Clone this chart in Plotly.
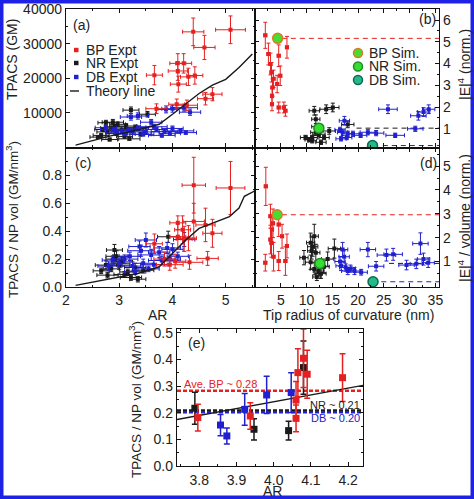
import numpy as np
import plotly.graph_objects as go

W, H = 474, 499
RED = "#e62020"
BLK = "#1a1a1a"
BLU = "#2020d0"
FONT = "Liberation Sans, Arial, sans-serif"

# ---------------- data: panel (a) TPACS vs AR ----------------
bp_a_ar = [4.39, 5.09, 4.60, 3.66, 4.10, 4.21, 4.10, 4.30, 4.42, 4.11, 4.62, 4.75, 4.08, 3.70, 4.27]
bp_a_t = [33400, 34000, 28900, 20900, 24300, 24300, 22100, 20400, 20800, 18300, 14100, 15400, 12500, 11200, 12200]
bp_a_xe = [0.20, 0.28, 0.20, 0.15, 0.15, 0.15, 0.18, 0.15, 0.15, 0.15, 0.15, 0.18, 0.15, 0.20, 0.20]
bp_a_ye = [4000, 4000, 3500, 2800, 2800, 2800, 2700, 2500, 2500, 2300, 1800, 1900, 1500, 1400, 1500]

nr_a_ar = [3.22, 3.53, 2.88, 2.75, 2.97, 3.13, 2.69, 2.85, 3.05, 2.78, 3.25, 2.66, 2.95, 3.40, 2.82, 3.19, 3.10, 2.92, 3.30, 2.60]
nr_a_t = [10800, 9600, 7300, 7150, 6700, 6200, 5200, 5600, 5000, 4500, 4800, 3500, 4000, 3800, 2300, 2500, 3200, 6000, 5800, 3000]
nr_a_xe = [0.15, 0.15, 0.2, 0.15, 0.15, 0.2, 0.15, 0.2, 0.15, 0.2, 0.2, 0.15, 0.2, 0.2, 0.15, 0.2, 0.15, 0.2, 0.2, 0.15]
nr_a_ye = [900, 800, 800, 700, 700, 700, 600, 600, 600, 500, 600, 500, 500, 500, 400, 400, 500, 700, 700, 400]

db_a_ar = [3.35, 3.22, 3.88, 4.00, 4.22, 4.33, 3.60, 2.75, 2.90, 3.05, 3.20, 3.35, 3.50, 3.70, 3.85, 4.00, 4.15, 3.45, 3.10, 3.80, 3.95, 2.95, 3.65, 4.25]
db_a_t = [9100, 8800, 11000, 11200, 11500, 10200, 7300, 5700, 5200, 4700, 5000, 5600, 4500, 5200, 4600, 5500, 4800, 3800, 3900, 3500, 4100, 4200, 6000, 4300]
db_a_xe = [0.2, 0.2, 0.2, 0.2, 0.25, 0.2, 0.2, 0.2, 0.25, 0.2, 0.25, 0.2, 0.25, 0.2, 0.25, 0.2, 0.25, 0.2, 0.2, 0.25, 0.2, 0.2, 0.25, 0.2]
db_a_ye = [900, 900, 1000, 1000, 1000, 900, 800, 700, 600, 600, 600, 700, 600, 600, 600, 700, 600, 500, 500, 500, 500, 500, 700, 500]

theory_ar = [2.18, 2.82, 3.38, 3.75, 4.00, 4.25, 4.50, 4.75, 5.00, 5.25, 5.50]
theory_t = [670, 3300, 5200, 6700, 9600, 12500, 15600, 18000, 19700, 23100, 27000]

# ---------------- data: panel (c) TPACS/vol vs AR ----------------
bp_c_ar = [4.40, 5.09, 4.40, 4.62, 4.75, 4.19, 4.10, 4.22, 4.30, 3.66, 4.66, 4.32, 3.85, 4.05, 3.95, 4.10]
bp_c_v = [0.73, 0.71, 0.47, 0.445, 0.385, 0.41, 0.36, 0.345, 0.35, 0.31, 0.205, 0.177, 0.20, 0.185, 0.16, 0.46]
bp_c_xe = [0.22, 0.27, 0.20, 0.18, 0.18, 0.15, 0.15, 0.15, 0.15, 0.15, 0.20, 0.25, 0.20, 0.20, 0.25, 0.15]
bp_c_ye = [0.20, 0.19, 0.13, 0.12, 0.10, 0.10, 0.09, 0.09, 0.09, 0.07, 0.05, 0.05, 0.05, 0.05, 0.04, 0.05]

nr_c_ar = [2.91, 2.95, 2.66, 2.78, 3.22, 3.35, 3.00, 3.16, 2.75, 3.05, 2.85, 3.10, 3.45, 2.90, 3.92, 3.30]
nr_c_v = [0.265, 0.22, 0.116, 0.085, 0.068, 0.056, 0.157, 0.108, 0.157, 0.18, 0.13, 0.09, 0.12, 0.20, 0.36, 0.14]
nr_c_xe = [0.15, 0.2, 0.15, 0.2, 0.2, 0.15, 0.2, 0.15, 0.2, 0.2, 0.15, 0.2, 0.2, 0.15, 0.2, 0.2]
nr_c_ye = [0.04, 0.04, 0.02, 0.02, 0.02, 0.02, 0.03, 0.02, 0.03, 0.03, 0.02, 0.02, 0.02, 0.03, 0.04, 0.03]

db_c_ar = [3.50, 3.38, 3.41, 2.88, 3.00, 3.10, 3.25, 3.45, 3.60, 3.75, 3.90, 4.00, 4.10, 3.80, 3.55, 3.30, 2.80, 3.65, 3.95, 4.22, 3.20]
db_c_v = [0.337, 0.29, 0.26, 0.193, 0.17, 0.20, 0.15, 0.17, 0.23, 0.25, 0.28, 0.27, 0.22, 0.19, 0.13, 0.11, 0.15, 0.16, 0.20, 0.34, 0.22]
db_c_xe = [0.2, 0.2, 0.25, 0.2, 0.2, 0.25, 0.2, 0.2, 0.25, 0.2, 0.25, 0.2, 0.2, 0.25, 0.2, 0.2, 0.2, 0.25, 0.2, 0.2, 0.2]
db_c_ye = [0.05, 0.04, 0.04, 0.03, 0.03, 0.03, 0.03, 0.03, 0.04, 0.04, 0.04, 0.04, 0.03, 0.03, 0.02, 0.02, 0.03, 0.03, 0.03, 0.05, 0.03]

theory_c_ar = [2.18, 3.35, 3.75, 4.00, 4.25, 4.50, 4.88, 5.07, 5.25, 5.35, 5.55]
theory_c_v = [0.012, 0.097, 0.145, 0.24, 0.337, 0.42, 0.48, 0.505, 0.566, 0.65, 0.69]

# ---------------- data: panel (b) |E|^4 vs tip radius ----------------
bp_b_r = [2.0, 2.6, 3.0, 3.2, 3.4, 3.3, 3.3, 4.6, 5.9, 5.6, 6.2, 4.6, 4.9, 4.3, 3.6]
bp_b_e = [5.3, 4.44, 3.98, 3.6, 2.9, 2.52, 2.13, 1.98, 1.83, 1.98, 4.75, 4.36, 3.44, 3.06, 3.3]
bp_b_xe = [0.3] * 15
bp_b_ye = [0.6, 0.5, 0.5, 0.45, 0.4, 0.35, 0.3, 0.25, 0.25, 0.25, 0.5, 0.5, 0.45, 0.4, 0.4]

nr_b_r = [11.5, 11.8, 13.8, 15.1, 9.8, 11.1, 12.4, 13.4, 14.4, 11.1, 12.8, 11.8, 18.0, 10.5, 12.0]
nr_b_e = [1.83, 1.44, 1.9, 1.98, 0.6, 0.6, 0.75, 0.6, 0.9, 0.45, 0.38, 0.84, 1.2, 0.5, 1.1]
nr_b_xe = [1.0, 0.8, 1.2, 1.2, 1.0, 1.0, 1.2, 1.0, 1.2, 0.8, 1.0, 1.0, 1.2, 0.8, 1.0]
nr_b_ye = [0.2, 0.2, 0.2, 0.2, 0.1, 0.1, 0.1, 0.1, 0.15, 0.1, 0.1, 0.15, 0.15, 0.1, 0.15]

db_b_r = [17.35, 17.0, 18.0, 16.7, 19.0, 20.5, 21.9, 23.5, 25.8, 27.2, 31.1, 31.7, 32.7, 33.7, 16.5, 17.8]
db_b_e = [1.37, 0.84, 0.77, 0.54, 0.77, 0.70, 0.84, 0.80, 1.90, 0.70, 1.00, 1.60, 1.77, 1.90, 0.95, 0.60]
db_b_xe = [1.0, 1.0, 1.2, 1.0, 1.2, 1.2, 1.5, 1.5, 1.8, 1.8, 1.5, 1.5, 1.2, 1.2, 1.0, 1.0]
db_b_ye = [0.2, 0.15, 0.12, 0.1, 0.12, 0.1, 0.12, 0.12, 0.2, 0.1, 0.12, 0.2, 0.2, 0.2, 0.12, 0.1]

# simulation points and their reference levels (panel b, panel d)
sim_names = ["BP Sim.", "NR Sim.", "DB Sim."]
sim_b_r = [4.4, 12.4, 22.8]
sim_b_e = [5.16, 1.03, 0.23]
sim_b_line_start = [5.2, 19.7, 24.8]
sim_d_r = [4.3, 12.6, 22.9]
sim_d_e = [2.96, 0.92, 0.15]
sim_d_line_start = [5.2, 26.0, 24.5]

# ---------------- data: panel (d) |E|^4/volume vs tip radius ----------------
bp_d_r = [2.1, 2.0, 3.0, 3.3, 3.5, 3.2, 4.6, 4.6, 5.25, 6.2, 5.9, 3.0, 3.6]
bp_d_e = [4.15, 0.95, 1.92, 2.34, 2.6, 1.78, 2.55, 1.02, 2.06, 1.65, 1.02, 2.9, 1.2]
bp_d_xe = [0.3] * 13
bp_d_ye = [0.8, 0.35, 0.6, 0.6, 0.6, 0.6, 0.5, 0.4, 0.5, 0.5, 0.6, 0.5, 0.6]

nr_d_r = [11.5, 10.8, 11.2, 11.8, 15.4, 9.5, 10.8, 11.5, 12.8, 12.0, 13.4, 14.1, 11.0, 12.3]
nr_d_e = [2.06, 1.79, 1.62, 1.37, 1.54, 1.16, 0.97, 0.69, 0.49, 0.35, 0.78, 1.10, 1.45, 0.60]
nr_d_xe = [0.8, 0.8, 1.0, 0.8, 1.2, 0.8, 1.0, 0.8, 1.0, 0.8, 1.0, 1.2, 0.8, 1.0]
nr_d_ye = [0.5, 0.4, 0.4, 0.35, 0.4, 0.3, 0.3, 0.25, 0.2, 0.15, 0.25, 0.3, 0.35, 0.2]

db_d_r = [17.0, 17.3, 16.7, 17.6, 18.0, 19.3, 20.6, 21.9, 23.5, 25.5, 26.8, 29.4, 32.1, 32.7, 33.6, 31.3, 16.5, 18.5]
db_d_e = [1.50, 1.20, 0.82, 0.75, 0.60, 0.60, 0.55, 1.50, 0.80, 1.27, 1.30, 0.85, 1.75, 1.10, 0.95, 0.90, 1.00, 0.70]
db_d_xe = [1.0, 1.0, 1.0, 1.2, 1.2, 1.2, 1.2, 1.5, 1.5, 1.8, 1.8, 1.5, 1.5, 1.2, 1.2, 1.2, 1.0, 1.0]
db_d_ye = [0.3, 0.25, 0.2, 0.15, 0.15, 0.15, 0.12, 0.3, 0.2, 0.25, 0.25, 0.2, 0.45, 0.25, 0.2, 0.2, 0.2, 0.15]

# ---------------- data: panel (e) ----------------
e_bp_ar = [3.796, 3.937, 4.060, 4.060, 4.065, 4.080, 4.090, 4.185]
e_bp_v = [0.182, 0.188, 0.248, 0.179, 0.351, 0.405, 0.345, 0.332]
e_bp_err = [0.05, 0.05, 0.07, 0.05, 0.09, 0.11, 0.09, 0.09]
e_nr_ar = [3.788, 3.947, 4.040, 4.080]
e_nr_v = [0.217, 0.138, 0.133, 0.370]
e_nr_err = [0.06, 0.04, 0.035, 0.10]
e_db_ar = [3.857, 3.874, 3.922, 3.981, 4.047]
e_db_v = [0.154, 0.113, 0.213, 0.267, 0.276]
e_db_err = [0.04, 0.03, 0.06, 0.07, 0.075]
e_fit_ar = [3.74, 4.24]
e_fit_v = [0.175, 0.303]
e_avg_names = ["Ave. BP ~ 0.28", "NR ~ 0.21", "DB ~ 0.20"]
e_avg_v = [0.283, 0.209, 0.202]

# ---------------- layout geometry (pixels) ----------------
def fx(p):
    return p / W

def fy(p):
    return 1 - p / H

XA = [fx(66), fx(255)]
XB = [fx(255), fx(439)]
YTOP = [fy(147.5), fy(9)]
YMID = [fy(287), fy(147.5)]
XE = [fx(177), fx(363)]
YE = [fy(466), fy(329)]

fig = go.Figure()


def add_series(xa, ya, x, y, xe, ye, color, size=4, thick=1, cap=2, name=None):
    fig.add_trace(go.Scatter(
        x=x, y=y, mode="markers", xaxis=xa, yaxis=ya, showlegend=False, name=name,
        marker=dict(symbol="square", size=size, color=color, line=dict(width=0)),
        error_x=dict(type="data", array=xe, visible=xe is not None, color=color, thickness=thick, width=cap),
        error_y=dict(type="data", array=ye, visible=True, color=color, thickness=thick, width=cap),
    ))


# panel a
add_series("x", "y", nr_a_ar, nr_a_t, nr_a_xe, nr_a_ye, BLK)
add_series("x", "y", db_a_ar, db_a_t, db_a_xe, db_a_ye, BLU)
add_series("x", "y", bp_a_ar, bp_a_t, bp_a_xe, bp_a_ye, RED)
fig.add_trace(go.Scatter(x=theory_ar, y=theory_t, mode="lines", xaxis="x", yaxis="y",
                         line=dict(color=BLK, width=1.4), showlegend=False))

# panel c
add_series("x3", "y3", nr_c_ar, nr_c_v, nr_c_xe, nr_c_ye, BLK)
add_series("x3", "y3", db_c_ar, db_c_v, db_c_xe, db_c_ye, BLU)
add_series("x3", "y3", bp_c_ar, bp_c_v, bp_c_xe, bp_c_ye, RED)
fig.add_trace(go.Scatter(x=theory_c_ar, y=theory_c_v, mode="lines", xaxis="x3", yaxis="y3",
                         line=dict(color=BLK, width=1.4), showlegend=False))

sim_fill = ["#44dd33", "#33dd33", "#22bb88"]
sim_edge = ["#e07a20", "#1f8f1f", "#116655"]
line_cols = [RED, BLK, BLU]

# panel b
for i in range(3):
    fig.add_trace(go.Scatter(x=[sim_b_line_start[i], 36], y=[sim_b_e[i], sim_b_e[i]], mode="lines",
                             xaxis="x2", yaxis="y2", showlegend=False,
                             line=dict(color=line_cols[i], width=1, dash="5px,4px")))
add_series("x2", "y2", bp_b_r, bp_b_e, bp_b_xe, bp_b_ye, RED)
add_series("x2", "y2", nr_b_r, nr_b_e, nr_b_xe, nr_b_ye, BLK)
add_series("x2", "y2", db_b_r, db_b_e, db_b_xe, db_b_ye, BLU)
fig.add_trace(go.Scatter(x=sim_b_r, y=sim_b_e, mode="markers", xaxis="x2", yaxis="y2", showlegend=False,
                         marker=dict(symbol="circle", size=10, color=sim_fill,
                                     line=dict(color=sim_edge, width=1.5))))

# panel d
for i in range(3):
    fig.add_trace(go.Scatter(x=[sim_d_line_start[i], 36], y=[sim_d_e[i], sim_d_e[i]], mode="lines",
                             xaxis="x4", yaxis="y4", showlegend=False,
                             line=dict(color=line_cols[i], width=1, dash="5px,4px")))
add_series("x4", "y4", bp_d_r, bp_d_e, bp_d_xe, bp_d_ye, RED)
add_series("x4", "y4", nr_d_r, nr_d_e, nr_d_xe, nr_d_ye, BLK)
add_series("x4", "y4", db_d_r, db_d_e, db_d_xe, db_d_ye, BLU)
fig.add_trace(go.Scatter(x=sim_d_r, y=sim_d_e, mode="markers", xaxis="x4", yaxis="y4", showlegend=False,
                         marker=dict(symbol="circle", size=10, color=sim_fill,
                                     line=dict(color=sim_edge, width=1.5))))

# panel e
for i in range(3):
    fig.add_trace(go.Scatter(x=[3.74, 4.24], y=[e_avg_v[i], e_avg_v[i]], mode="lines",
                             xaxis="x5", yaxis="y5", showlegend=False,
                             line=dict(color=line_cols[i], width=2.5, dash="4px,2px")))
fig.add_trace(go.Scatter(x=e_fit_ar, y=e_fit_v, mode="lines", xaxis="x5", yaxis="y5", showlegend=False,
                         line=dict(color=BLK, width=1.4)))
add_series("x5", "y5", e_db_ar, e_db_v, None, e_db_err, BLU, size=7, thick=1.5, cap=3)
add_series("x5", "y5", e_nr_ar, e_nr_v, None, e_nr_err, BLK, size=7, thick=1.5, cap=3)
add_series("x5", "y5", e_bp_ar, e_bp_v, None, e_bp_err, RED, size=7, thick=1.5, cap=3)

# ---------------- axes ----------------
tickfont = dict(size=14, color="#222", family=FONT)


def axis(domain, anchor, rng, tickvals, ticktext=None, minor_vals=None, side=None, show_labels=True, standoff=None):
    d = dict(domain=domain, anchor=anchor, range=rng, showline=True, linecolor="#111", linewidth=1.3,
             mirror="ticks", ticks="inside", ticklen=4, tickwidth=1, tickcolor="#111",
             showgrid=False, zeroline=False, tickfont=tickfont, fixedrange=True, automargin=False,
             tickmode="array", tickvals=tickvals, showticklabels=show_labels)
    if ticktext is not None:
        d["ticktext"] = ticktext
    if minor_vals is not None:
        d["minor"] = dict(tickmode="array", tickvals=minor_vals, ticks="inside", ticklen=2,
                          tickwidth=1, tickcolor="#111", showgrid=False)
    if side:
        d["side"] = side
    if standoff is not None:
        d["ticklabelstandoff"] = standoff
    return d


ar_ticks = [2, 3, 4, 5]
ar_minor = [2.5, 3.5, 4.5, 5.5]
r_ticks = [0, 5, 10, 15, 20, 25, 30, 35]
r_minor = [2.5, 7.5, 12.5, 17.5, 22.5, 27.5, 32.5]

fig.update_layout(
    xaxis=axis(XA, "y", [2, 5.55], ar_ticks, minor_vals=ar_minor, show_labels=False),
    yaxis=axis(YTOP, "x", [0, 40000], [10000, 20000, 30000, 40000], ["10000", "20000", "30000", "40000"],
               minor_vals=[5000, 15000, 25000, 35000]),
    xaxis2=axis(XB, "y2", [0, 35.7], r_ticks, minor_vals=r_minor, show_labels=False),
    yaxis2=axis(YTOP, "x2", [0.14, 6.51], [1, 2, 3, 4, 5, 6], ["1", "2", "3", "4", "5", "6"],
                minor_vals=[0.5, 1.5, 2.5, 3.5, 4.5, 5.5], side="right"),
    xaxis3=axis(XA, "y3", [2, 5.55], ar_ticks, ["2", "3", "4", "5"], minor_vals=ar_minor),
    yaxis3=axis(YMID, "x3", [0, 1.0], [0, 0.2, 0.4, 0.6, 0.8], ["0.0", "0.2", "0.4", "0.6", "0.8"],
                minor_vals=[0.1, 0.3, 0.5, 0.7, 0.9]),
    xaxis4=axis(XB, "y4", [0, 35.7], r_ticks[1:], ["5", "10", "15", "20", "25", "30", "35"],
                minor_vals=[0] + r_minor),
    yaxis4=axis(YMID, "x4", [-0.07, 5.78], [1, 2, 3, 4, 5], ["1", "2", "3", "4", "5"],
                minor_vals=[0.5, 1.5, 2.5, 3.5, 4.5, 5.5], side="right"),
    xaxis5=axis(XE, "y5", [3.74, 4.24], [3.8, 3.9, 4.0, 4.1, 4.2], ["3.8", "3.9", "4.0", "4.1", "4.2"],
                minor_vals=[3.75, 3.85, 3.95, 4.05, 4.15], standoff=1),
    yaxis5=axis(YE, "x5", [0, 0.515], [0, 0.1, 0.2, 0.3, 0.4, 0.5], ["0.0", "0.1", "0.2", "0.3", "0.4", "0.5"],
                minor_vals=[0.05, 0.15, 0.25, 0.35, 0.45]),
)

# ---------------- annotations ----------------
ann = []


def text(x, y, s, size=14, color="#222", xanchor="center", angle=0, yanchor="middle"):
    ann.append(dict(x=fx(x), y=fy(y), xref="paper", yref="paper", text=s, showarrow=False,
                    font=dict(size=size, color=color, family=FONT), xanchor=xanchor, yanchor=yanchor,
                    textangle=angle))


text(12, 60, "TPACS (GM)", angle=-90)
text(12, 220, "TPACS / NP vol (GM/nm<sup>3</sup>)", size=13.5, angle=-90)
text(464, 65, "|E|<sup>4</sup> (norm.)", angle=-90)
text(464, 218, "|E|<sup>4</sup> / volume (norm.)", angle=-90)
text(157, 315, "AR")
text(348, 315, "Tip radius of curvature (nm)")
text(135, 400, "TPACS / NP vol (GM/nm<sup>3</sup>)", size=13.5, angle=-90)
text(272, 491, "AR")
text(81, 25, "(a)")
text(427, 19, "(b)")
text(83, 163, "(c)")
text(428, 163, "(d)")
text(196, 343, "(e)")

# legend (a)
leg_a = ["BP Expt", "NR Expt", "DB Expt", "Theory line"]
leg_a_y = [50, 63, 77, 91]
for s, yy in zip(leg_a, leg_a_y):
    text(84, yy, s, xanchor="left")
# legend (b)
leg_b_y = [53, 66.5, 80]
for s, yy in zip(sim_names, leg_b_y):
    text(367, yy, s, xanchor="left")

# panel e texts
text(182, 384, e_avg_names[0], size=11, color=RED, xanchor="left")
text(362, 405, e_avg_names[1], size=11, color=BLK, xanchor="right")
text(362, 418, e_avg_names[2], size=11, color=BLU, xanchor="right")

shapes = []
# legend keys (a)
for c, yy in zip([RED, BLK, BLU], leg_a_y[:3]):
    shapes.append(dict(type="rect", xref="paper", yref="paper", x0=fx(74), x1=fx(78.5),
                       y0=fy(yy + 2.2), y1=fy(yy - 2.2), fillcolor=c, line=dict(width=0)))
shapes.append(dict(type="line", xref="paper", yref="paper", x0=fx(70), x1=fx(79),
                   y0=fy(leg_a_y[3]), y1=fy(leg_a_y[3]), line=dict(color=BLK, width=1.4)))
# legend keys (b)
for i, yy in enumerate(leg_b_y):
    shapes.append(dict(type="circle", xref="paper", yref="paper", x0=fx(353.5), x1=fx(362.5),
                       y0=fy(yy + 4.5), y1=fy(yy - 4.5), fillcolor=sim_fill[i],
                       line=dict(color=sim_edge[i], width=1.5)))
# blue frame
shapes.append(dict(type="rect", xref="paper", yref="paper", x0=0, x1=1, y0=0, y1=1,
                   line=dict(color="#1e22e6", width=7), layer="above"))

fig.update_layout(
    annotations=ann, shapes=shapes,
    width=W, height=H, autosize=False,
    margin=dict(l=0, r=0, t=0, b=0, pad=0, autoexpand=False),
    paper_bgcolor="white", plot_bgcolor="white",
    showlegend=False, font=dict(family=FONT, size=14, color="#222"),
)

fig.write_html("out.html", config={"displayModeBar": False},
               post_script="document.body.style.margin='0';document.body.style.overflow='hidden';")
